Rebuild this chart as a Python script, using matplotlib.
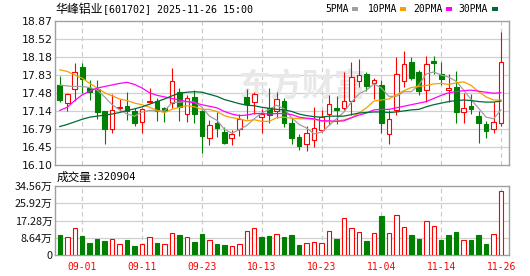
import matplotlib
matplotlib.use('Agg')
import matplotlib.pyplot as plt
from matplotlib.patches import Rectangle

# 华峰铝业 日K 数据 (价格: 元, 成交量: 万手)
dates = ['08-27', '08-28', '08-29', '09-01', '09-02', '09-03', '09-04', '09-05', '09-08', '09-09',
         '09-10', '09-11', '09-12', '09-15', '09-16', '09-17', '09-18', '09-19', '09-22', '09-23',
         '09-24', '09-25', '09-26', '09-29', '09-30', '10-09', '10-10', '10-13', '10-14', '10-15',
         '10-16', '10-17', '10-20', '10-21', '10-22', '10-23', '10-24', '10-27', '10-28', '10-29',
         '10-30', '10-31', '11-03', '11-04', '11-05', '11-06', '11-07', '11-10', '11-11', '11-12',
         '11-13', '11-14', '11-17', '11-18', '11-19', '11-20', '11-21', '11-24', '11-25', '11-26']
opens = [17.64, 17.29, 17.56, 17.99, 17.59, 17.56, 17.13, 16.79, 17.20, 17.24,
         17.14, 16.92, 17.31, 17.34, 17.20, 17.30, 17.50, 17.09, 17.40, 17.14,
         16.61, 16.90, 16.73, 16.61, 16.79, 17.40, 17.32, 17.03, 17.19, 17.13,
         17.33, 16.90, 16.63, 16.50, 16.59, 16.77, 17.09, 17.19, 17.20, 17.34,
         17.72, 17.85, 17.67, 17.64, 16.69, 17.15, 17.72, 18.09, 17.88, 17.54,
         18.10, 17.86, 17.55, 17.61, 17.11, 17.24, 17.04, 16.89, 16.79, 16.90]
highs = [17.81, 17.49, 18.07, 18.06, 17.73, 17.73, 17.14, 17.47, 17.37, 17.50,
         17.19, 17.19, 17.59, 17.38, 17.22, 17.97, 17.58, 17.45, 17.54, 17.16,
         16.97, 17.11, 16.84, 16.77, 17.09, 17.56, 17.51, 17.17, 17.58, 17.51,
         17.38, 17.00, 16.70, 16.85, 17.21, 17.16, 17.45, 17.43, 17.88, 18.08,
         18.13, 17.89, 17.78, 17.74, 17.16, 18.18, 18.29, 18.17, 17.93, 18.20,
         18.20, 18.09, 17.86, 17.90, 17.49, 17.47, 17.13, 16.95, 17.32, 18.65]
lows = [17.32, 17.14, 17.34, 17.48, 17.35, 16.99, 16.50, 16.71, 17.13, 16.97,
        16.85, 16.71, 17.29, 16.95, 16.93, 17.19, 16.95, 16.93, 16.90, 16.34,
        16.48, 16.63, 16.50, 16.48, 16.65, 16.98, 17.09, 16.71, 16.90, 17.00,
        16.84, 16.50, 16.39, 16.36, 16.45, 16.74, 16.87, 16.89, 17.16, 17.06,
        17.61, 17.53, 17.37, 16.71, 16.50, 17.06, 17.61, 17.74, 17.45, 17.32,
        17.86, 17.64, 17.32, 16.91, 16.91, 17.09, 16.52, 16.61, 16.72, 16.85]
closes = [17.35, 17.47, 17.88, 17.75, 17.51, 17.11, 16.79, 17.16, 17.21, 17.14,
          16.91, 17.17, 17.34, 17.13, 17.13, 17.72, 17.21, 17.39, 17.09, 16.65,
          16.86, 16.82, 16.53, 16.69, 16.98, 17.27, 17.46, 17.08, 17.07, 17.36,
          16.91, 16.61, 16.47, 16.71, 16.81, 17.03, 17.27, 17.15, 17.33, 17.79,
          17.83, 17.62, 17.74, 16.90, 16.99, 17.86, 18.04, 17.78, 17.53, 18.04,
          18.07, 17.75, 17.58, 17.11, 17.19, 17.17, 16.90, 16.75, 16.92, 18.08]
volumes = [10.00, 8.85, 13.36, 9.52, 6.01, 8.01, 7.01, 7.85, 5.34, 7.51,
           4.51, 5.34, 8.85, 6.10, 5.40, 10.86, 10.02, 8.85, 6.60, 10.52,
           7.40, 5.51, 5.01, 4.40, 5.40, 12.02, 13.36, 8.90, 9.52, 10.35,
           9.02, 10.02, 5.01, 5.84, 6.51, 6.01, 12.02, 8.01, 18.37, 13.36,
           11.52, 7.01, 11.02, 19.53, 11.02, 20.03, 13.86, 10.02, 8.01, 16.86,
           14.53, 7.51, 10.02, 11.52, 7.51, 7.51, 10.02, 5.51, 10.52, 32.0904]
ma5 = [17.64, 17.62, 17.61, 17.61, 17.59, 17.54, 17.41, 17.26, 17.16, 17.08,
       17.04, 17.12, 17.15, 17.14, 17.14, 17.30, 17.31, 17.32, 17.31, 17.21,
       17.04, 16.96, 16.79, 16.71, 16.78, 16.86, 16.99, 17.10, 17.17, 17.25,
       17.18, 17.01, 16.88, 16.81, 16.70, 16.73, 16.86, 16.99, 17.12, 17.31,
       17.47, 17.54, 17.66, 17.58, 17.42, 17.42, 17.51, 17.51, 17.64, 17.85,
       17.89, 17.83, 17.79, 17.71, 17.54, 17.36, 17.19, 17.02, 16.99, 17.16]
ma10 = [17.93, 17.90, 17.83, 17.77, 17.67, 17.58, 17.49, 17.43, 17.37, 17.34,
        17.29, 17.26, 17.21, 17.15, 17.11, 17.17, 17.21, 17.24, 17.22, 17.17,
        17.17, 17.13, 17.05, 17.01, 16.99, 16.95, 16.97, 16.94, 16.94, 17.01,
        17.02, 17.00, 16.99, 16.99, 16.98, 16.95, 16.93, 16.94, 16.97, 17.01,
        17.10, 17.20, 17.33, 17.35, 17.37, 17.45, 17.53, 17.59, 17.61, 17.63,
        17.66, 17.67, 17.65, 17.68, 17.70, 17.63, 17.51, 17.41, 17.35, 17.35]
ma20 = [17.15, 17.21, 17.34, 17.45, 17.52, 17.58, 17.61, 17.64, 17.67, 17.69,
        17.65, 17.58, 17.49, 17.44, 17.41, 17.38, 17.35, 17.32, 17.30, 17.26,
        17.23, 17.20, 17.13, 17.08, 17.05, 17.06, 17.09, 17.09, 17.08, 17.09,
        17.09, 17.07, 17.02, 17.00, 16.99, 16.95, 16.95, 16.94, 16.95, 17.01,
        17.06, 17.10, 17.16, 17.17, 17.17, 17.20, 17.23, 17.26, 17.29, 17.32,
        17.38, 17.44, 17.49, 17.51, 17.53, 17.54, 17.52, 17.50, 17.48, 17.49]
ma30 = [16.84, 16.88, 16.93, 16.98, 17.02, 17.04, 17.06, 17.08, 17.11, 17.15,
        17.18, 17.22, 17.27, 17.32, 17.37, 17.43, 17.48, 17.50, 17.51, 17.50,
        17.46, 17.42, 17.36, 17.32, 17.28, 17.25, 17.24, 17.21, 17.19, 17.17,
        17.16, 17.13, 17.08, 17.05, 17.03, 17.02, 17.04, 17.04, 17.04, 17.07,
        17.10, 17.11, 17.12, 17.12, 17.11, 17.12, 17.14, 17.16, 17.17, 17.22,
        17.26, 17.29, 17.32, 17.34, 17.35, 17.34, 17.32, 17.31, 17.31, 17.33]
tick_dates = ['09-01', '09-11', '09-23', '10-13', '10-23', '11-04', '11-14', '11-26']
price_ticks = [16.10, 16.45, 16.79, 17.14, 17.48, 17.83, 18.18, 18.52, 18.87]
vol_ticks = [0, 8.64, 17.28, 25.92, 34.56]
ma_names = ['5PMA', '10PMA', '20PMA', '30PMA']

RED = '#ff0000'
GREEN = '#008000'
ma_colors = ['#a0a0a0', '#f5a000', '#ff00ff', '#006a32']
FRAME = '#a0a0a0'
GRID = '#d0d0d0'
CJK = ['Noto Sans CJK SC', 'DejaVu Sans']
MONO = ['DejaVu Sans Mono', 'Noto Sans CJK SC']

W, H = 530, 276
fig = plt.figure(figsize=(W / 100, H / 100), dpi=100)


def box(l, t, r, b):
    return [l / W, 1 - b / H, (r - l) / W, (b - t) / H]


def fx(px):
    return px / W


def fy(py):
    return 1 - py / H


ax = fig.add_axes(box(55.3, 21, 509.3, 165))
axv = fig.add_axes(box(55.3, 186, 509.3, 255))

x = list(range(len(dates)))
tick_pos = [dates.index(d) for d in tick_dates]

for a in (ax, axv):
    a.set_xlim(-0.6, 60.1)
    for s in a.spines.values():
        s.set_color(FRAME)
        s.set_linewidth(1.0)
    a.tick_params(length=0, pad=2)
    for p in tick_pos:
        a.axvline(p, color='#c8c8c8', lw=0.8, ls=(0, (4, 3)), zorder=0)

# 价格区
ax.set_ylim(price_ticks[0], price_ticks[-1])
ax.set_yticks(price_ticks)
ax.set_yticklabels(['%.2f' % v for v in price_ticks], fontsize=7.8, color='#111111')
for v in price_ticks[1:-1]:
    ax.axhline(v, color=GRID, lw=0.9, zorder=0)
ax.set_xticks([])

ax.text(0.543, 0.535, '东方财富', transform=ax.transAxes, ha='center', va='center',
        fontsize=23, fontweight='bold', color='#e8e8e8', family=CJK, zorder=1)

up = [c >= o for o, c in zip(opens, closes)]
cols = [RED if u else GREEN for u in up]
ax.vlines(x, lows, highs, colors=cols, lw=0.8, zorder=3)
bottoms = [min(o, c) for o, c in zip(opens, closes)]
heights = [max(abs(c - o), 0.004) for o, c in zip(opens, closes)]
faces = ['white' if u else GREEN for u in up]
ax.bar(x, heights, 0.62, bottoms, color=faces, edgecolor=cols, lw=0.8, zorder=4)

for vals, c in zip([ma5, ma10, ma20, ma30], ma_colors):
    ax.plot(x, vals, color=c, lw=0.9, zorder=5)

# 成交量区
prev = [opens[0]] + closes[:-1]
vcols = [RED if c >= p else GREEN for c, p in zip(closes, prev)]
vfaces = ['white' if vc == RED else GREEN for vc in vcols]
axv.bar(x, volumes, 0.6, color=vfaces, edgecolor=vcols, lw=0.8, zorder=3)
axv.set_ylim(vol_ticks[0], vol_ticks[-1])
axv.set_yticks(vol_ticks)
axv.set_yticklabels(['0'] + ['%.2f万' % v for v in vol_ticks[1:]], fontsize=7.8,
                    color='#111111', family=CJK)
for v in vol_ticks[1:-1]:
    axv.axhline(v, color=GRID, lw=0.9, zorder=0)
axv.set_xticks(tick_pos)
axv.set_xticklabels(tick_dates, fontsize=7, color=RED, family=MONO)
axv.tick_params(axis='x', pad=5)

# 标题与图例
fig.text(fx(55.7), fy(9), '华峰铝业', fontsize=8.6, family=CJK, va='center', ha='left')
fig.text(fx(103), fy(9), '[601702] 2025-11-26 15:00', fontsize=7.2, family=MONO,
         va='center', ha='left')
legend_x = [325, 367.6, 413, 458.8]
square_x = [352, 400, 446, 492]
for name, lx, sx, c in zip(ma_names, legend_x, square_x, ma_colors):
    fig.text(fx(lx), fy(9), name, fontsize=7, family=MONO, va='center', ha='left')
    fig.patches.append(Rectangle((fx(sx), fy(11)), 6 / W, 4 / H, transform=fig.transFigure,
                                 facecolor=c, edgecolor='none'))

fig.text(fx(57), fy(177), '成交量', fontsize=8.4, family=CJK, va='center', ha='left')
fig.text(fx(92), fy(177), ':%d' % round(volumes[-1] * 10000), fontsize=7.6, family=MONO,
         va='center', ha='left')

fig.savefig('out.png', dpi=100, facecolor='white')
